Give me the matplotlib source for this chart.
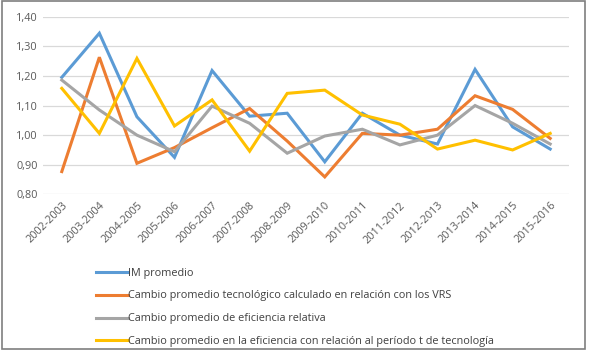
import numpy as np
import matplotlib
matplotlib.use("Agg")
import matplotlib.pyplot as plt
from matplotlib.patches import Rectangle

plt.rcParams['font.family'] = ['Open Sans', 'DejaVu Sans']

periods = ['2002-2003', '2003-2004', '2004-2005', '2005-2006', '2006-2007',
           '2007-2008', '2008-2009', '2009-2010', '2010-2011', '2011-2012',
           '2012-2013', '2013-2014', '2014-2015', '2015-2016']

im_promedio = [1.195, 1.344, 1.062, 0.925, 1.218, 1.064, 1.074, 0.910,
               1.074, 1.000, 0.970, 1.222, 1.028, 0.953]
cambio_tec = [0.877, 1.263, 0.905, 0.958, 1.025, 1.090, 0.980, 0.859,
              1.006, 1.000, 1.020, 1.133, 1.087, 0.989]
cambio_efic_rel = [1.186, 1.085, 1.000, 0.944, 1.098, 1.040, 0.939, 0.997,
                   1.020, 0.967, 1.000, 1.100, 1.040, 0.970]
cambio_efic_t = [1.158, 1.006, 1.259, 1.031, 1.119, 0.946, 1.141, 1.152,
                 1.068, 1.037, 0.953, 0.983, 0.950, 1.006]

series = [
    ('IM promedio', im_promedio, '#5B9BD5'),
    ('Cambio promedio tecnológico calculado en relación con los VRS', cambio_tec, '#ED7D31'),
    ('Cambio promedio de eficiencia relativa', cambio_efic_rel, '#A5A5A5'),
    ('Cambio promedio en la eficiencia con relación al período t de tecnología', cambio_efic_t, '#FFC000'),
]

fig = plt.figure(figsize=(5.89, 3.62), dpi=100)
ax = fig.add_axes([0.073, 0.463, 0.893, 0.491])

x = np.arange(len(periods))
for name, vals, col in series:
    ax.plot(x, vals, color=col, lw=2.2, label=name, solid_joinstyle='miter')

ax.set_xlim(-0.5, len(periods) - 0.5)
ax.set_ylim(0.80, 1.40)
yt = np.arange(0.80, 1.41, 0.10)
ax.set_yticks(yt)
ax.set_yticklabels([f'{v:.2f}'.replace('.', ',') for v in yt])
ax.set_xticks(x)
ax.set_xticklabels(periods, rotation=45, ha='right', rotation_mode='anchor')
ax.tick_params(axis='both', length=0, labelsize=7.8, colors='#595959', pad=4)
ax.grid(axis='y', color='#D9D9D9', lw=0.9)
ax.set_axisbelow(True)
for s in ax.spines.values():
    s.set_visible(False)

leg = fig.legend(loc='upper left', bbox_to_anchor=(0.156, 0.273), frameon=False,
                 fontsize=7.8, handlelength=2.9, handletextpad=0.05,
                 labelspacing=1.1, borderaxespad=0)
for t in leg.get_texts():
    t.set_color('#404040')

# marco exterior
fig.patches.append(Rectangle((0.004, 0.036), 0.989, 0.961, transform=fig.transFigure,
                             fill=False, edgecolor='#7F7F7F', lw=1.2))

fig.savefig('out.png', dpi=100)
